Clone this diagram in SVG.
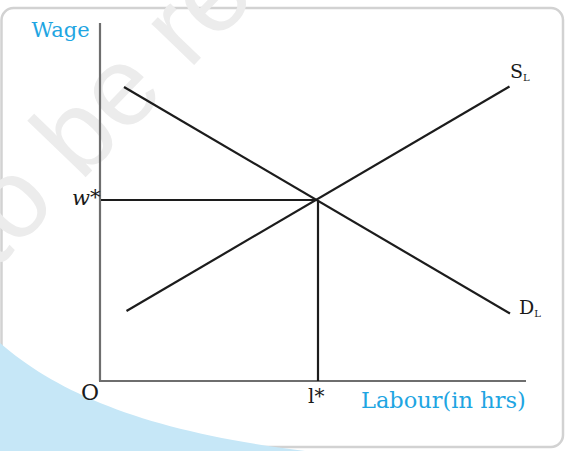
<svg xmlns="http://www.w3.org/2000/svg" width="568" height="451" viewBox="0 0 568 451">
<style>
.lbl{font-family:"DejaVu Serif","Liberation Serif",serif;fill:#1a1a1a}
.blue{font-family:"DejaVu Serif","Liberation Serif",serif;fill:#1ea5e2}
.axis{stroke:#6e6e6e;stroke-width:2.2;fill:none}
.curve{stroke:#1c1c1c;stroke-width:2.2;fill:none;stroke-linecap:butt}
</style>
<rect x="0" y="0" width="568" height="451" fill="#ffffff"/>
<rect x="1.5" y="8" width="561.5" height="439" rx="12" fill="#ffffff" stroke="#d2d2d2" stroke-width="2.5"/>
<g id="watermark">
<text x="-6" y="272" transform="rotate(-46 -6 272)" font-family="'Liberation Sans',Arial,sans-serif" font-size="112" fill="#ececec">to be re</text>
</g>
<path d="M0,343 C60,395 150,432 305,451 L0,451 Z" fill="#c6e7f7"/>
<g id="axes">
<line class="axis" x1="100" y1="23" x2="100" y2="381"/>
<line class="axis" x1="99" y1="381" x2="526" y2="381"/>
</g>
<g id="connectors">
<line class="curve" x1="124" y1="87" x2="510" y2="313.5"/>
<line class="curve" x1="126.5" y1="311" x2="509.5" y2="86.5"/>
<line class="curve" x1="101" y1="200" x2="318" y2="200"/>
<line class="curve" x1="318" y1="200" x2="318" y2="381"/>
</g>
<g id="label-wage"><text class="blue" x="31.5" y="36.5" font-size="21">Wage</text></g>
<g id="label-labour"><text class="blue" x="361" y="408" font-size="22.5">Labour(in hrs)</text></g>
<g id="label-origin"><text class="lbl" x="81" y="400" font-size="22">O</text></g>
<g id="label-wstar"><text class="lbl" x="72" y="205" font-size="21"><tspan font-style="italic">w</tspan><tspan dy="-1">*</tspan></text></g>
<g id="label-lstar"><text class="lbl" x="308" y="403" font-size="20">l*</text></g>
<g id="label-SL"><text class="lbl" x="510" y="78" font-size="19">S<tspan font-size="10" dy="3">L</tspan></text></g>
<g id="label-DL"><text class="lbl" x="519" y="314" font-size="19">D<tspan font-size="10" dy="3">L</tspan></text></g>
</svg>
